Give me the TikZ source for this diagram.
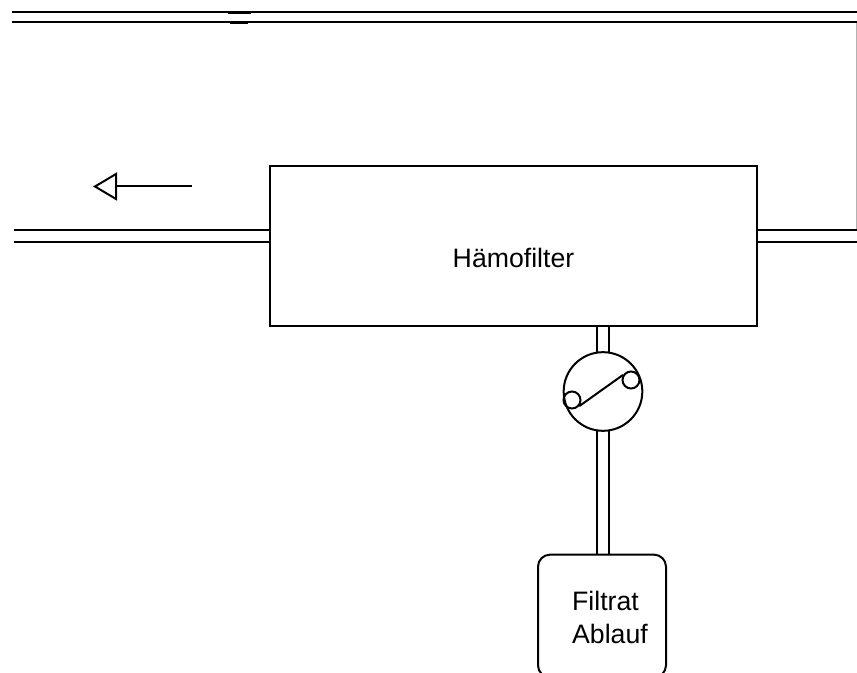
\documentclass[tikz,border=0pt]{standalone}
\usepackage{fontspec}
\setmainfont{Liberation Sans}
\usepackage{tikz}
\usetikzlibrary{positioning,arrows.meta}
\tikzset{
  blockbox/.style={draw,line width=1.5pt,inner sep=0pt},
  pipeline/.style={line width=1.5pt},
  railline/.style={line width=1.5pt},
  boxtext/.style={font=\fontsize{20}{25}\selectfont,inner sep=0pt}
}
\begin{document}
\begin{tikzpicture}[x=0.75pt,y=-0.75pt,line join=miter]
\clip (0,0) rectangle (857,673);
\node (filter) [blockbox,minimum width=365.25pt,minimum height=120pt] at (513.5,246) {};
\node (filterlabel) [boxtext] at (513.5,258) {Hämofilter};
\node (pump) [blockbox,circle,minimum size=59pt] at (603,391.5) {};
\node (rollerA) [blockbox,circle,minimum size=12.75pt] at (572,400) {};
\node (rollerB) [blockbox,circle,minimum size=12.75pt] at (631,380) {};
\node (drain) [blockbox,rounded corners=9pt,minimum width=96pt,minimum height=92pt] at (602,616) {};
\node (drainlabel) [boxtext,align=left] at (610,617.5) {Filtrat\\Ablauf};
\coordinate (leftA) at (14,230);
\coordinate (leftB) at (14,242);
\coordinate (rightA) at (857,230);
\coordinate (rightB) at (857,242);
\coordinate (topA) at (12,12.5);
\coordinate (topB) at (12,22.5);
\coordinate (topC) at (857,12.5);
\coordinate (topD) at (857,22.5);
\coordinate (flowstart) at (192,186.5);
\coordinate (flowend) at (93,186.5);
\draw[pipeline] (leftA) -- (leftA -| filter.west);
\draw[pipeline] (leftB) -- (leftB -| filter.west);
\draw[pipeline] (rightA) -- (rightA -| filter.east);
\draw[pipeline] (rightB) -- (rightB -| filter.east);
\draw[railline] (topA) -- (topC);
\draw[railline] (topB) -- (topD);
\draw[line width=1.8pt] (228,12.5) -- (251,12.5);
\draw[line width=1.8pt] (230,22.5) -- (248,22.5);
\draw[line width=0.8pt,black!30] (856.5,23) -- (856.5,229);
\draw[pipeline] (pump.99) -- (pump.99 |- filter.south);
\draw[pipeline] (pump.81) -- (pump.81 |- filter.south);
\draw[pipeline] (pump.261) -- (pump.261 |- drain.north);
\draw[pipeline] (pump.279) -- (pump.279 |- drain.north);
\draw[pipeline] (rollerA.-40) -- (rollerB.148);
\draw[pipeline,-{Triangle[open,length=18pt,width=21pt]}] (flowstart) -- (flowend);
\end{tikzpicture}
\end{document}
